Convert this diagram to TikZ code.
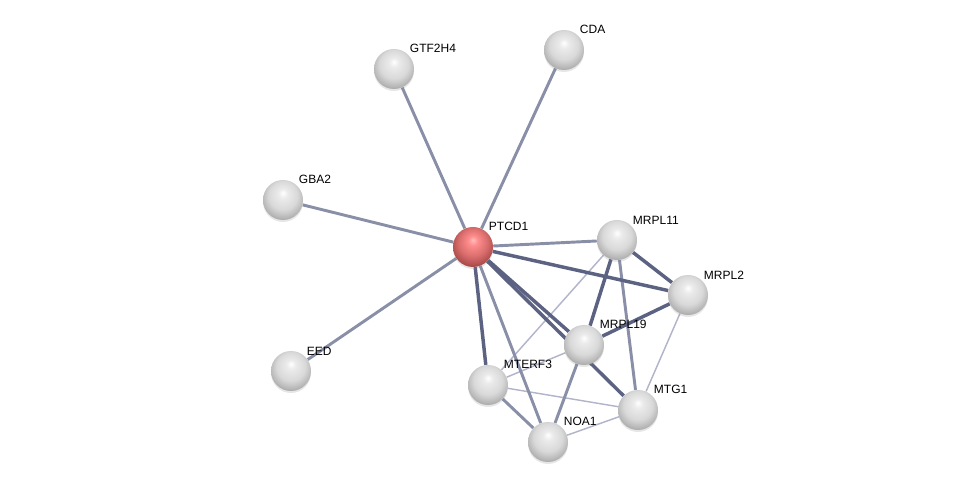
\documentclass[tikz,border=0pt]{standalone}
\usepackage{fontspec}
\setmainfont{Liberation Sans}
\usetikzlibrary{backgrounds,shadows}

\definecolor{edgemid}{RGB}{138,143,168}
\definecolor{edgestrong}{RGB}{92,98,130}
\definecolor{edgeweak}{RGB}{178,181,202}

% glossy balls, circle edge at 25bp
\pgfdeclareradialshading{glassgray}{\pgfpoint{0bp}{9bp}}{%
  color(0bp)=(white); color(6bp)=(white!92!black); color(18bp)=(white!85!black);
  color(26bp)=(white!72!black); color(34bp)=(white!55!black); color(50bp)=(white!55!black)}
\pgfdeclareradialshading{glassred}{\pgfpoint{0bp}{9bp}}{%
  color(0bp)=(red!25!white); color(6bp)=(red!45!white); color(18bp)=(red!50!white!85!black);
  color(26bp)=(red!55!white!70!black); color(34bp)=(red!55!white!50!black); color(50bp)=(red!55!white!50!black)}

\tikzset{
  prot/.style={circle, minimum size=30pt, inner sep=0pt, shading=glassgray,
    drop shadow={opacity=0.2, shadow xshift=0pt, shadow yshift=-1.5pt}},
  query/.style={prot, shading=glassred},
  weak/.style={edgeweak, line width=1.1pt},
  mid/.style={edgemid, line width=2.2pt},
  strong/.style={edgestrong, line width=2.6pt}
}

\begin{document}
\begin{tikzpicture}[x=0.75pt, y=-0.75pt, font=\fontsize{9}{10}\selectfont]
  \useasboundingbox (0,0) rectangle (976,488);

  \node[query,  label={[inner sep=1pt]above right:PTCD1}]  (ptcd1)  at (473,247) {};
  \node[prot,   label={[inner sep=1pt]above right:GTF2H4}] (gtf2h4) at (394,69) {};
  \node[prot,   label={[inner sep=1pt]above right:CDA}]    (cda)    at (564,50) {};
  \node[prot,   label={[inner sep=1pt]above right:GBA2}]   (gba2)   at (283,200) {};
  \node[prot,   label={[inner sep=1pt]above right:EED}]    (eed)    at (291,371) {};
  \node[prot,   label={[inner sep=1pt]above right:MRPL11}] (mrpl11) at (617,240) {};
  \node[prot,   label={[inner sep=1pt]above right:MRPL2}]  (mrpl2)  at (688,295) {};
  \node[prot,   label={[inner sep=1pt]above right:MRPL19}] (mrpl19) at (584,345) {};
  \node[prot,   label={[inner sep=1pt]above right:MTERF3}] (mterf3) at (488,385) {};
  \node[prot,   label={[inner sep=1pt]above right:MTG1}]   (mtg1)   at (638,410) {};
  \node[prot,   label={[inner sep=1pt]above right:NOA1}]   (noa1)   at (548,442) {};

  \begin{pgfonlayer}{background}
    % weak links
    \draw[weak] (mrpl11) -- (mterf3);
    \draw[weak] (mrpl2) -- (mtg1);
    \draw[weak] (mrpl19) -- (mterf3);
    \draw[weak] (mterf3) -- (mtg1);
    \draw[weak] (noa1) -- (mtg1);
    % medium links
    \foreach \n in {gtf2h4, cda, gba2, eed, mrpl11, noa1}
      \draw[mid] (ptcd1) -- (\n);
    \draw[mid] (mrpl11) -- (mtg1);
    \draw[mid] (mrpl19) -- (noa1);
    \draw[mid] (mterf3) -- (noa1);
    % strong links
    \draw[strong] (ptcd1) -- (mrpl2);
    \draw[strong] (ptcd1) -- (mrpl19);
    \draw[strong] (ptcd1) -- (mtg1);
    \draw[strong] (ptcd1) -- (mterf3);
    \draw[strong] (mrpl11) -- (mrpl2);
    \draw[strong] (mrpl11) -- (mrpl19);
    \draw[strong] (mrpl2) -- (mrpl19);
  \end{pgfonlayer}
\end{tikzpicture}
\end{document}
